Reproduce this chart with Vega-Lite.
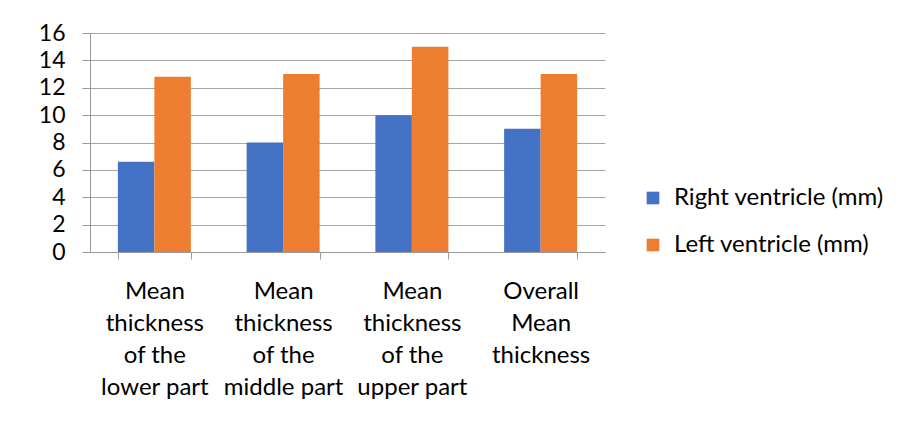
{
  "$schema": "https://vega.github.io/schema/vega-lite/v6.json",
  "autosize": {"type": "none"},
  "width": 515,
  "height": 219,
  "padding": {"left": 90, "top": 33, "right": 302, "bottom": 182},
  "background": "white",
  "data": {
    "values": [
      {"part": "Mean|thickness|of the|lower part", "series": "Right ventricle (mm)", "value": 6.6},
      {"part": "Mean|thickness|of the|lower part", "series": "Left ventricle (mm)", "value": 12.8},
      {"part": "Mean|thickness|of the|middle part", "series": "Right ventricle (mm)", "value": 8},
      {"part": "Mean|thickness|of the|middle part", "series": "Left ventricle (mm)", "value": 13},
      {"part": "Mean|thickness|of the|upper part", "series": "Right ventricle (mm)", "value": 10},
      {"part": "Mean|thickness|of the|upper part", "series": "Left ventricle (mm)", "value": 15},
      {"part": "Overall|Mean|thickness", "series": "Right ventricle (mm)", "value": 9},
      {"part": "Overall|Mean|thickness", "series": "Left ventricle (mm)", "value": 13}
    ]
  },
  "mark": {"type": "bar"},
  "encoding": {
    "x": {
      "field": "part",
      "type": "nominal",
      "sort": null,
      "scale": {"paddingInner": 0.433, "paddingOuter": 0.2165},
      "axis": {
        "title": null,
        "labelAngle": 0,
        "labelExpr": "split(datum.label, '|')",
        "labelFont": "Lato",
        "labelFontSize": 24,
        "labelColor": "#000000",
        "labelLineHeight": 32,
        "labelBaseline": "top",
        "labelPadding": 20,
        "labelLimit": 200,
        "tickBand": "extent",
        "tickSize": 7,
        "tickColor": "#999999",
        "domainColor": "#999999",
        "grid": false
      }
    },
    "xOffset": {"field": "series", "type": "nominal", "sort": ["Right ventricle (mm)", "Left ventricle (mm)"]},
    "y": {
      "field": "value",
      "type": "quantitative",
      "scale": {"domain": [0, 16], "nice": false},
      "axis": {
        "title": null,
        "values": [0, 2, 4, 6, 8, 10, 12, 14, 16],
        "labelFont": "Lato",
        "labelFontSize": 23,
        "labelColor": "#000000",
        "labelPadding": 17,
        "tickSize": 8,
        "tickColor": "#999999",
        "gridColor": "#A6A6A6",
        "gridWidth": 1,
        "domainColor": "#999999"
      }
    },
    "color": {
      "field": "series",
      "type": "nominal",
      "sort": ["Right ventricle (mm)", "Left ventricle (mm)"],
      "scale": {"domain": ["Right ventricle (mm)", "Left ventricle (mm)"], "range": ["#4472C4", "#ED7D31"]},
      "legend": {
        "title": null,
        "orient": "none",
        "legendX": 551,
        "legendY": 153,
        "symbolType": "square",
        "symbolSize": 160,
        "symbolStrokeWidth": 0,
        "labelFont": "Lato",
        "labelFontSize": 24,
        "labelColor": "#000000",
        "labelOffset": 9,
        "rowPadding": 23,
        "labelLimit": 300
      }
    }
  },
  "config": {"view": {"stroke": null}, "axis": {"domainWidth": 1}}
}
